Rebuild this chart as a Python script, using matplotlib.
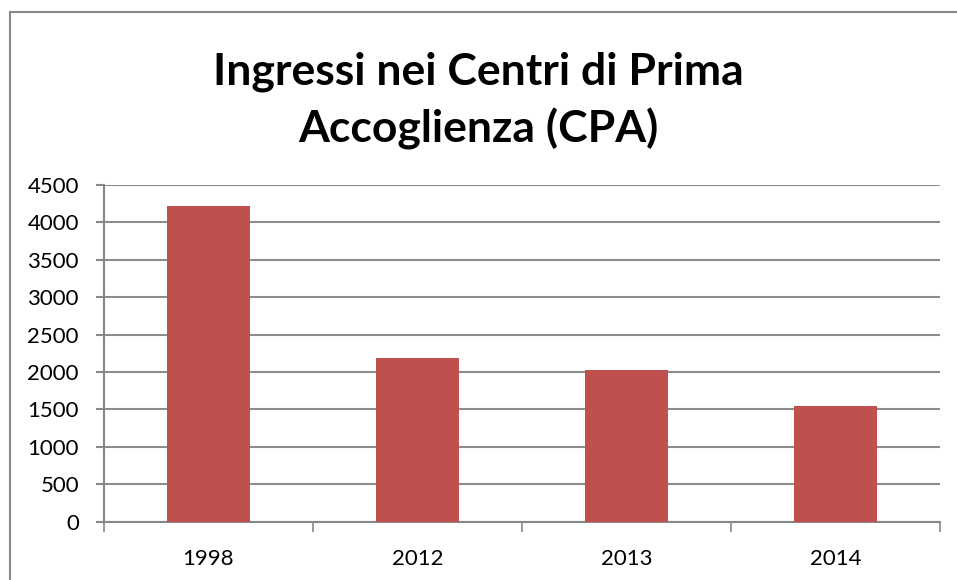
import matplotlib.pyplot as plt
from matplotlib.patches import Rectangle

years = ['1998', '2012', '2013', '2014']
ingressi = [4220, 2190, 2020, 1545]
yticks = [0, 500, 1000, 1500, 2000, 2500, 3000, 3500, 4000, 4500]

plt.rcParams['font.family'] = ['Lato', 'DejaVu Sans']

fig = plt.figure(figsize=(9.57, 5.8), dpi=100)
fig.patches.append(Rectangle((10 / 957, -0.01), 1.0, (580 - 12) / 580 + 0.01,
                             transform=fig.transFigure, fill=False,
                             edgecolor='#888888', linewidth=1.5))

ax = fig.add_axes([104 / 957, 58.5 / 580, 836 / 957, 336.5 / 580])
x = list(range(len(years)))
ax.bar(x, ingressi, width=0.4, color='#C0504D', zorder=3)

ax.set_xlim(-0.5, len(years) - 0.5)
ax.set_ylim(0, 4500)
ax.set_yticks(yticks)
ax.set_yticklabels([str(v) for v in yticks], fontsize=16)
ax.set_xticks(x)
ax.set_xticklabels(years, fontsize=16)
ax.tick_params(axis='x', length=0, pad=20)
ax.set_xticks([i - 0.5 for i in range(len(years) + 1)], minor=True)
ax.tick_params(axis='x', which='minor', length=7, width=1.2, color='#888888', direction='out')
ax.tick_params(axis='y', length=6, width=1.5, color='#888888', pad=12)
ax.grid(axis='y', color='#8c8c8c', linewidth=1.5, zorder=0)
for s in ['top', 'right']:
    ax.spines[s].set_visible(False)
for s in ['left', 'bottom']:
    ax.spines[s].set_color('#888888')
    ax.spines[s].set_linewidth(1.5)

fig.text(0.5, 0.826, 'Ingressi nei Centri di Prima\nAccoglienza (CPA)',
         ha='center', va='center', fontsize=32, fontweight='bold',
         linespacing=1.45)

fig.savefig('out.png', dpi=100)
